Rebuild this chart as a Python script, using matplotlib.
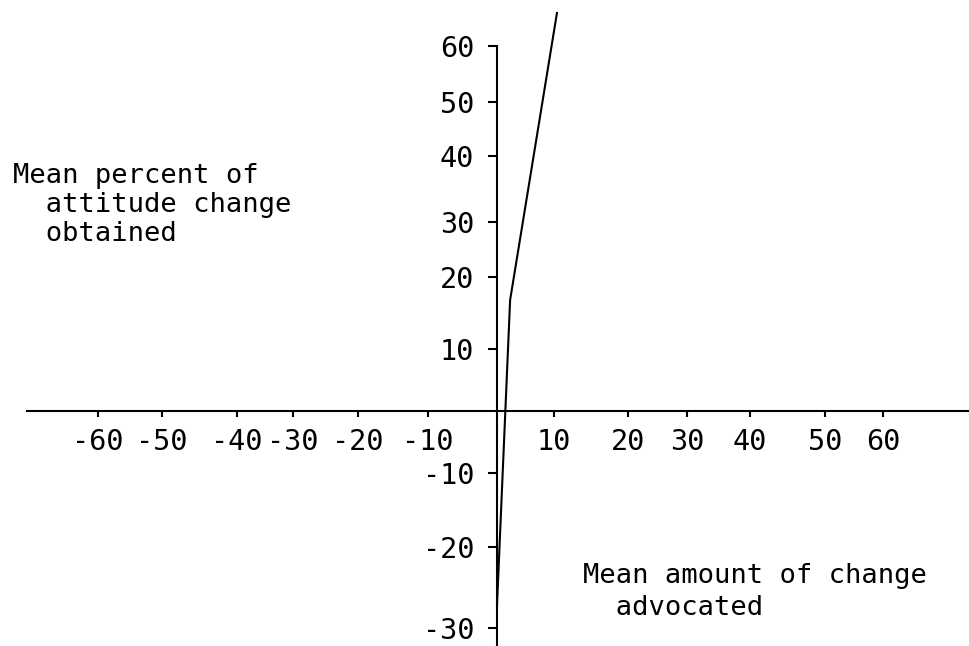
import numpy as np
import matplotlib
matplotlib.use("Agg")
import matplotlib.pyplot as plt

# ---- data ----
advocated = [0.0, 2.3, 10.4]          # mean amount of change advocated
attitude_change = [-27.2, 16.8, 65.9] # mean percent of attitude change obtained
x_ticks = [-60, -50, -40, -30, -20, -10, 10, 20, 30, 40, 50, 60]
y_ticks = [60, 50, 40, 30, 20, 10, -10, -20, -30]
x_tick_labels = [str(t) for t in x_ticks]
y_tick_labels = [str(t) for t in y_ticks]
x_title_lines = ["Mean amount of change", "  advocated"]
y_title_lines = ["Mean percent of", "  attitude change", "  obtained"]

# ---- hand-drawn axis calibration (value -> pixel in the original drawing) ----
W, H = 969, 646
x_cal_vals = [-120, -60, -50, -40, -30, -20, -10, 0, 10, 20, 30, 40, 50, 60, 120]
x_cal_pix = [-292, 98, 162, 237, 293, 358, 428, 497, 554, 628, 687, 750, 825, 883, 1267]
y_cal_vals = [-80, -30, -20, -10, 0, 10, 20, 30, 40, 50, 60, 120]
y_cal_pix = [1028, 628, 547, 473, 411, 349, 277, 222, 156, 102, 46, -290]

def x_fwd(v):
    return np.interp(v, x_cal_vals, x_cal_pix)

def x_inv(p):
    return np.interp(p, x_cal_pix, x_cal_vals)

def y_fwd(v):
    return H - np.interp(v, y_cal_vals, y_cal_pix)

def y_inv(p):
    return np.interp(H - np.asarray(p), y_cal_pix[::-1], y_cal_vals[::-1])

def y_from_top(p):
    return float(np.interp(p, y_cal_pix[::-1], y_cal_vals[::-1]))

plt.rcParams["axes.unicode_minus"] = False
FONT = "DejaVu Sans Mono"
FS = 19.5
TICK_FS = 20.5
LW = 1.5

fig = plt.figure(figsize=(W / 100, H / 100), dpi=100)
ax = fig.add_axes([0, 0, 1, 1])
ax.patch.set_visible(False)
ax.set_xscale("function", functions=(x_fwd, x_inv))
ax.set_yscale("function", functions=(y_fwd, y_inv))
ax.set_xlim(float(x_inv(0)), float(x_inv(W)))
ax.set_ylim(y_from_top(H), y_from_top(0))

ax.plot(advocated, attitude_change, color="black", lw=1.5, solid_joinstyle="miter")

for s in ("top", "right"):
    ax.spines[s].set_visible(False)
ax.spines["left"].set_position(("data", 0))
ax.spines["bottom"].set_position(("data", 0))
ax.spines["left"].set_linewidth(LW)
ax.spines["bottom"].set_linewidth(LW)
ax.spines["left"].set_bounds(y_from_top(H), 60)
ax.spines["bottom"].set_bounds(float(x_inv(27)), float(x_inv(W)))

ax.set_xticks(x_ticks, labels=x_tick_labels)
ax.set_yticks(y_ticks, labels=y_tick_labels)
ax.tick_params(axis="x", direction="out", length=4.5, width=LW, pad=7.5)
ax.tick_params(axis="y", direction="out", length=6.5, width=LW, pad=10)
for lab in ax.get_xticklabels() + ax.get_yticklabels():
    lab.set_fontfamily(FONT)
    lab.set_fontsize(TICK_FS)

def put_lines(lines, x_px, base_px, step_px):
    for i, line in enumerate(lines):
        fig.text(x_px / W, 1 - (base_px + i * step_px) / H, line,
                 family=FONT, fontsize=FS, ha="left", va="baseline")

put_lines(y_title_lines, 13, 183, 29)
put_lines(x_title_lines, 583, 583, 32)

fig.savefig("out.png", dpi=100, facecolor="white")
